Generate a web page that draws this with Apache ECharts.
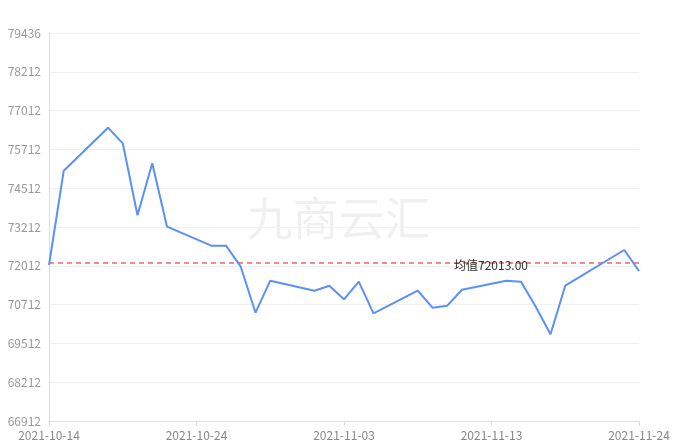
<!DOCTYPE html>
<html><head><meta charset="utf-8">
<script src="https://cdn.jsdelivr.net/npm/echarts@6/dist/echarts.min.js"></script>
<style>html,body{margin:0;padding:0;}#c{width:677px;height:447px;}</style>
</head><body><div id="c"></div>
<script>
const dates = ['2021-10-14','2021-10-15','2021-10-18','2021-10-19','2021-10-20','2021-10-21','2021-10-22','2021-10-25','2021-10-26','2021-10-27','2021-10-28','2021-10-29','2021-11-01','2021-11-02','2021-11-03','2021-11-04','2021-11-05','2021-11-08','2021-11-09','2021-11-10','2021-11-11','2021-11-14','2021-11-15','2021-11-16','2021-11-17','2021-11-18','2021-11-22','2021-11-23'];
const values = [71947,74992,76380,75875,73552,75230,73184,72571,72571,71893,70408,71441,71118,71279,70840,71409,70388,71118,70569,70634,71150,71441,71409,70601,69710,71279,72432,71754];
const yTickLabels = ['66912','68212','69512','70712','72012','73212','74512','75712','77012','78212','79436'];
const xTickLabels = ['2021-10-14','2021-10-24','2021-11-03','2021-11-13','2021-11-24'];
const meanValue = 72013;
const DAY = 86400000;
const ts = d => Date.UTC(+d.slice(0,4), +d.slice(5,7)-1, +d.slice(8,10));
const t0 = ts(dates[0]);
const xTicks = [0,10,20,30,40].map(k=>t0+k*DAY);
const chart = echarts.init(document.getElementById('c'));
const fontFam = '"Noto Sans CJK SC","Noto Sans",sans-serif';
chart.setOption({
  animation:false,
  graphic:[{type:'text',left:'center',top:195,style:{text:'九商云汇',fontSize:46,fontFamily:fontFam,fill:'rgba(0,0,0,0.06)'}}],
  grid:{left:49,right:38,top:33,bottom:26},
  xAxis:{type:'value',min:xTicks[0],max:xTicks[4],
    axisLine:{lineStyle:{color:'#ddd'}},
    axisTick:{show:true,customValues:xTicks,lineStyle:{color:'#ddd'}},
    splitLine:{show:false},
    axisLabel:{color:'#888',fontSize:12,fontFamily:fontFam,customValues:xTicks,
      formatter:v=>xTickLabels[Math.round((v-t0)/(10*DAY))]}
  },
  yAxis:{type:'value',min:66912,max:79436,interval:1252.4,
    axisLine:{show:true,lineStyle:{color:'#ddd'}},axisTick:{show:false},
    splitLine:{lineStyle:{color:'#f0f0f0'}},
    axisLabel:{color:'#999',fontSize:12,fontFamily:fontFam,
      formatter:v=>yTickLabels[Math.round((v-66912)/1252.4)]}},
  series:[{type:'line',data:dates.map((d,i)=>[ts(d),values[i]]),symbol:'none',z:3,
    lineStyle:{color:'#5b8ff9',width:2},itemStyle:{color:'#5b8ff9'}},
    {type:'line',data:[[xTicks[0],meanValue],[xTicks[4],meanValue]],symbol:'none',z:2,silent:true,
    lineStyle:{color:'#ee6666',type:[5,4],width:1.5},
    endLabel:{show:false}}
  ],
  graphic:[
    {type:'text',left:'center',top:195,style:{text:'九商云汇',fontSize:46,fontFamily:fontFam,fill:'rgba(0,0,0,0.06)'}},
    {type:'text',x:491,y:265,style:{text:'均值'+meanValue.toFixed(2),fontSize:12,fontFamily:fontFam,fill:'#333',align:'center',verticalAlign:'middle'},z:10}
  ]
});
</script></body></html>
